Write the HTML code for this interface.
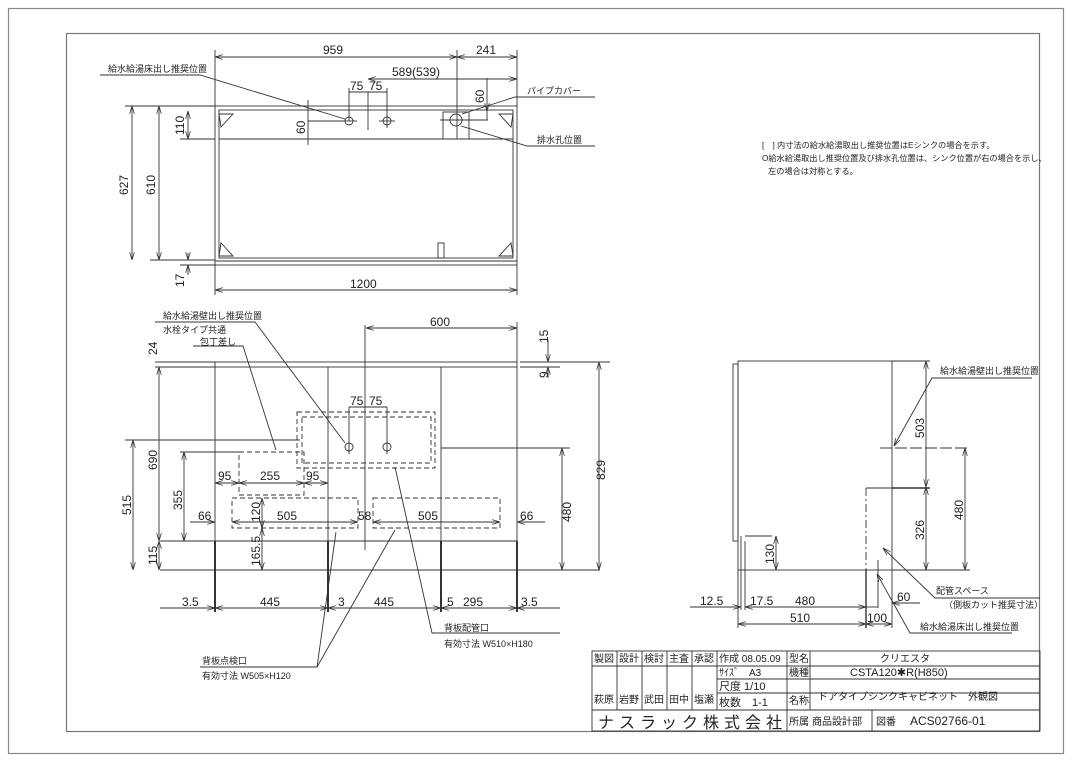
<!DOCTYPE html>
<html><head><meta charset="utf-8"><style>
html,body{margin:0;padding:0;background:#fff}
svg{display:block}
text{font-family:"Liberation Sans","Noto Sans CJK JP",sans-serif;fill:#222}
.d{font-size:12px}
.s{font-size:9px}
.n{font-size:8.2px}
.t{font-size:10px}
</style></head><body>
<svg width="1080" height="764" viewBox="0 0 1080 764" xmlns="http://www.w3.org/2000/svg">
<defs>
<marker id="a" viewBox="0 0 10 6" refX="10" refY="3" markerWidth="8" markerHeight="5" orient="auto-start-reverse" markerUnits="userSpaceOnUse"><path d="M0,0L10,3L0,6" fill="none" stroke="#333" stroke-width="1"/></marker>
</defs>
<rect x="0" y="0" width="1080" height="764" fill="#fff"/>
<rect x="8.5" y="8.5" width="1055" height="745" fill="none" stroke="#888" stroke-width="1.2"/>
<rect x="66.5" y="33.5" width="973" height="698" fill="none" stroke="#777" stroke-width="1.2"/>

<g stroke="#333" stroke-width="0.9" fill="none">
<!-- TOP VIEW -->
<rect x="215" y="106" width="302" height="159"/>
<rect x="219" y="110" width="294" height="148"/>
<line x1="219" y1="139" x2="513" y2="139"/>
<line x1="215" y1="261" x2="517" y2="261"/>
<path d="M219,114 L233,114 L221,127Z M513,114 L499,114 L511,127Z M219,256 L233,256 L221,243Z M513,256 L499,256 L511,243Z"/>
<rect x="438" y="243" width="6" height="15"/>
<circle cx="349" cy="121" r="4"/><circle cx="387" cy="121" r="4"/>
<line x1="341" y1="121" x2="357" y2="121"/><line x1="379" y1="121" x2="395" y2="121"/><line x1="387" y1="114" x2="387" y2="128"/>
<line x1="368" y1="92" x2="368" y2="130"/>
<circle cx="456" cy="120" r="6"/><rect x="443" y="112" width="26" height="27"/>
<line x1="440" y1="120" x2="488" y2="120"/>
<line x1="215" y1="50" x2="215" y2="106"/><line x1="517" y1="50" x2="517" y2="106"/><line x1="457" y1="50" x2="457" y2="139"/>
<line x1="215" y1="57" x2="457" y2="57" marker-start="url(#a)" marker-end="url(#a)"/>
<line x1="457" y1="57" x2="517" y2="57" marker-start="url(#a)" marker-end="url(#a)"/>
<line x1="368" y1="79" x2="517" y2="79" marker-start="url(#a)" marker-end="url(#a)"/>
<line x1="349" y1="88" x2="349" y2="121"/><line x1="387" y1="88" x2="387" y2="114"/>
<line x1="349" y1="92" x2="387" y2="92"/>
<line x1="487" y1="78" x2="487" y2="120"/><line x1="487" y1="108" x2="487" y2="111" marker-end="url(#a)"/>
<line x1="308" y1="100" x2="308" y2="145"/>
<line x1="308" y1="121" x2="345" y2="121"/>
<line x1="125" y1="106" x2="215" y2="106"/><line x1="150" y1="260" x2="215" y2="260"/><line x1="180" y1="265" x2="215" y2="265"/><line x1="180" y1="139" x2="215" y2="139"/>
<line x1="132" y1="106" x2="132" y2="260" marker-start="url(#a)" marker-end="url(#a)"/>
<line x1="159" y1="106" x2="159" y2="260" marker-start="url(#a)" marker-end="url(#a)"/>
<line x1="188" y1="111" x2="188" y2="139" marker-start="url(#a)" marker-end="url(#a)"/>
<line x1="188" y1="253" x2="188" y2="260" marker-end="url(#a)"/><line x1="188" y1="275" x2="188" y2="265" marker-end="url(#a)"/>
<line x1="215" y1="265" x2="215" y2="295"/><line x1="517" y1="265" x2="517" y2="295"/>
<line x1="215" y1="290" x2="517" y2="290" marker-start="url(#a)" marker-end="url(#a)"/>
<path d="M100,75 L200,75 L345,119"/>
<path d="M595,97 L515,97 L462,114"/>
<path d="M595,146 L527,146 L461,126"/>

<!-- FRONT VIEW -->
<rect x="215" y="362" width="302" height="5"/>
<line x1="215" y1="367" x2="215" y2="570"/><line x1="517" y1="367" x2="517" y2="570"/>
<line x1="328" y1="367" x2="328" y2="541"/><line x1="441" y1="367" x2="441" y2="541"/>
<line x1="215" y1="541" x2="517" y2="541"/>
<line x1="160" y1="570" x2="600" y2="570"/>
<g stroke-width="2"><line x1="215" y1="541" x2="215" y2="570"/><line x1="328" y1="541" x2="328" y2="570"/><line x1="441" y1="541" x2="441" y2="570"/><line x1="517" y1="541" x2="517" y2="570"/></g>
<g stroke-dasharray="5,3">
<rect x="297" y="412" width="138" height="56"/><rect x="302" y="417" width="129" height="46"/>
<rect x="239" y="452" width="65" height="43"/>
<rect x="232" y="498" width="126" height="30"/><rect x="373" y="498" width="127" height="30"/>
</g>
<circle cx="349" cy="447" r="4"/><circle cx="387" cy="447" r="4"/>
<line x1="349" y1="440" x2="349" y2="454"/><line x1="387" y1="440" x2="387" y2="454"/>
<line x1="365" y1="325" x2="365" y2="550"/>
<line x1="349" y1="407" x2="349" y2="440"/><line x1="387" y1="407" x2="387" y2="440"/>
<line x1="349" y1="407" x2="387" y2="407"/>
<line x1="517" y1="322" x2="517" y2="362"/>
<line x1="366" y1="328" x2="517" y2="328" marker-start="url(#a)" marker-end="url(#a)"/>
<line x1="520" y1="362" x2="610" y2="362"/><line x1="520" y1="367" x2="560" y2="367"/>
<line x1="548" y1="340" x2="548" y2="362" marker-end="url(#a)"/><line x1="548" y1="378" x2="548" y2="367" marker-end="url(#a)"/>
<line x1="599" y1="362" x2="599" y2="570" marker-start="url(#a)" marker-end="url(#a)"/>
<line x1="441" y1="448" x2="570" y2="448"/>
<line x1="562" y1="448" x2="562" y2="570" marker-start="url(#a)" marker-end="url(#a)"/>
<line x1="155" y1="362" x2="215" y2="362"/><line x1="155" y1="367" x2="215" y2="367"/>
<line x1="159" y1="367" x2="159" y2="541" marker-start="url(#a)" marker-end="url(#a)"/>
<line x1="159" y1="541" x2="159" y2="570" marker-start="url(#a)" marker-end="url(#a)"/>
<line x1="125" y1="440" x2="300" y2="440"/>
<line x1="133" y1="440" x2="133" y2="570" marker-start="url(#a)" marker-end="url(#a)"/>
<line x1="180" y1="452" x2="239" y2="452"/>
<line x1="184" y1="452" x2="184" y2="541" marker-start="url(#a)" marker-end="url(#a)"/>
<line x1="160" y1="541" x2="215" y2="541"/>
<line x1="215" y1="483" x2="239" y2="483" marker-start="url(#a)" marker-end="url(#a)"/>
<line x1="239" y1="483" x2="304" y2="483" marker-start="url(#a)" marker-end="url(#a)"/>
<line x1="304" y1="483" x2="328" y2="483" marker-start="url(#a)" marker-end="url(#a)"/>
<line x1="190" y1="522" x2="215" y2="522" marker-end="url(#a)"/>
<line x1="232" y1="522" x2="358" y2="522" marker-start="url(#a)" marker-end="url(#a)"/>
<line x1="373" y1="522" x2="500" y2="522" marker-start="url(#a)" marker-end="url(#a)"/>
<line x1="545" y1="522" x2="517" y2="522" marker-end="url(#a)"/>
<line x1="262" y1="498" x2="262" y2="528" marker-start="url(#a)" marker-end="url(#a)"/>
<line x1="262" y1="528" x2="262" y2="570" marker-start="url(#a)" marker-end="url(#a)"/>
<line x1="160" y1="608" x2="215" y2="608" marker-end="url(#a)"/>
<line x1="215" y1="608" x2="328" y2="608" marker-start="url(#a)" marker-end="url(#a)"/>
<line x1="328" y1="608" x2="441" y2="608" marker-start="url(#a)" marker-end="url(#a)"/>
<line x1="441" y1="608" x2="517" y2="608" marker-start="url(#a)" marker-end="url(#a)"/>
<line x1="560" y1="608" x2="517" y2="608" marker-end="url(#a)"/>
<g stroke-width="2"><line x1="215" y1="570" x2="215" y2="612"/><line x1="328" y1="570" x2="328" y2="612"/><line x1="441" y1="570" x2="441" y2="612"/><line x1="517" y1="570" x2="517" y2="612"/></g>
<path d="M155,322 L255,322 L345,443"/>
<path d="M193,346 L243,346 L276,450"/>
<path d="M560,633 L432,633 L395,467"/>
<path d="M200,667 L317,667 L336,532"/>
<path d="M317,667 L395,530"/>

<!-- SIDE VIEW -->
<rect x="738" y="361" width="154" height="209"/>
<rect x="733" y="364" width="5" height="177"/>
<line x1="741" y1="536" x2="741" y2="570"/><line x1="745" y1="541" x2="745" y2="570"/>
<line x1="745" y1="536" x2="772" y2="536"/>
<line x1="866" y1="488" x2="892" y2="488"/><line x1="892" y1="488" x2="930" y2="488" stroke-width="1.4"/>
<line x1="866" y1="488" x2="866" y2="570" stroke-dasharray="8,3,2,3"/>
<line x1="880" y1="448" x2="970" y2="448" stroke-dasharray="12,3"/>
<line x1="892" y1="361" x2="930" y2="361"/>
<line x1="892" y1="570" x2="970" y2="570"/>
<line x1="926" y1="361" x2="926" y2="487" marker-start="url(#a)" marker-end="url(#a)"/>
<line x1="926" y1="487" x2="926" y2="570" marker-start="url(#a)" marker-end="url(#a)"/>
<line x1="965" y1="448" x2="965" y2="570" marker-start="url(#a)" marker-end="url(#a)"/>
<line x1="776" y1="536" x2="776" y2="570" marker-start="url(#a)" marker-end="url(#a)"/>
<line x1="738" y1="570" x2="738" y2="628"/><line x1="741" y1="570" x2="741" y2="610"/><line x1="745" y1="570" x2="745" y2="610"/>
<line x1="866" y1="570" x2="866" y2="628" stroke-width="1.4"/><line x1="892" y1="570" x2="892" y2="628"/><line x1="878" y1="560" x2="878" y2="608"/>
<line x1="690" y1="607" x2="741" y2="607" marker-end="url(#a)"/>
<line x1="745" y1="607" x2="866" y2="607" marker-start="url(#a)" marker-end="url(#a)"/>
<line x1="866" y1="607" x2="878" y2="607"/>
<line x1="920" y1="603" x2="892" y2="603" marker-end="url(#a)"/>
<line x1="738" y1="624" x2="866" y2="624" marker-start="url(#a)" marker-end="url(#a)"/>
<line x1="866" y1="624" x2="892" y2="624" marker-start="url(#a)" marker-end="url(#a)"/>
<path d="M1032,378 L932,378 L894,446" marker-end="url(#a)"/>
<path d="M1040,598 L935,598 L883,548" marker-end="url(#a)"/>
<path d="M1012,633 L910,633 L877,574" marker-end="url(#a)"/>

<!-- TITLE BLOCK -->
<rect x="592" y="651" width="448" height="80"/>
<line x1="592" y1="666" x2="787" y2="666"/>
<line x1="717" y1="679" x2="1040" y2="679"/>
<line x1="787" y1="666" x2="1040" y2="666"/>
<line x1="717" y1="693" x2="787" y2="693"/>
<line x1="787" y1="693" x2="1040" y2="693"/>
<line x1="592" y1="710" x2="1040" y2="710"/>
<line x1="617" y1="651" x2="617" y2="710"/><line x1="642" y1="651" x2="642" y2="710"/><line x1="667" y1="651" x2="667" y2="710"/><line x1="692" y1="651" x2="692" y2="710"/><line x1="717" y1="651" x2="717" y2="710"/>
<line x1="787" y1="651" x2="787" y2="731"/><line x1="810" y1="651" x2="810" y2="710"/>
<line x1="872" y1="710" x2="872" y2="731"/>
</g>

<g class="d">
<text x="323" y="54">959</text><text x="476" y="54">241</text>
<text x="392" y="76">589(539)</text>
<text x="350" y="90">75</text><text x="369" y="90">75</text>
<text x="350" y="288">1200</text>
<text transform="translate(128,195) rotate(-90)">627</text>
<text transform="translate(155,195) rotate(-90)">610</text>
<text transform="translate(184,135) rotate(-90)">110</text>
<text transform="translate(184,287) rotate(-90)">17</text>
<text transform="translate(305,134) rotate(-90)">60</text>
<text transform="translate(484,103) rotate(-90)">60</text>
</g>
<g class="s">
<text x="108" y="72">給水給湯床出し推奨位置</text>
<text x="527" y="94">パイプカバー</text>
<text x="537" y="143">排水孔位置</text>
<text x="163" y="319">給水給湯壁出し推奨位置</text>
<text x="163" y="333">水栓タイプ共通</text>
<text x="200" y="345">包丁差し</text>
<text x="444" y="631">背板配管口</text>
<text x="444" y="647">有効寸法 W510×H180</text>
<text x="202" y="664">背板点検口</text>
<text x="202" y="679">有効寸法 W505×H120</text>
<text x="940" y="374">給水給湯壁出し推奨位置</text>
<text x="936" y="594">配管スペース</text>
<text x="944" y="608">（側板カット推奨寸法）</text>
<text x="920" y="630">給水給湯床出し推奨位置</text>
</g>
<g class="n">
<text x="762" y="148">[　] 内寸法の給水給湯取出し推奨位置はEシンクの場合を示す。</text>
<text x="762" y="161">O給水給湯取出し推奨位置及び排水孔位置は、シンク位置が右の場合を示し、</text>
<text x="768" y="174">左の場合は対称とする。</text>
</g>
<g class="d">
<text x="430" y="326">600</text>
<text x="350" y="405">75</text><text x="369" y="405">75</text>
<text x="218" y="480">95</text><text x="260" y="480">255</text><text x="306" y="480">95</text>
<text x="198" y="520">66</text><text x="277" y="520">505</text><text x="358" y="520">58</text><text x="418" y="520">505</text><text x="520" y="520">66</text>
<text x="182" y="606">3.5</text><text x="260" y="606">445</text><text x="338" y="606">3</text><text x="374" y="606">445</text><text x="447" y="606">5</text><text x="463" y="606">295</text><text x="521" y="606">3.5</text>
<text transform="translate(157,355) rotate(-90)">24</text>
<text transform="translate(548,343) rotate(-90)">15</text>
<text transform="translate(548,378) rotate(-90)">9</text>
<text transform="translate(157,470) rotate(-90)">690</text>
<text transform="translate(131,515) rotate(-90)">515</text>
<text transform="translate(182,510) rotate(-90)">355</text>
<text transform="translate(157,565) rotate(-90)">115</text>
<text transform="translate(260,522) rotate(-90)">120</text>
<text transform="translate(260,566) rotate(-90)">165.5</text>
<text transform="translate(571,522) rotate(-90)">480</text>
<text transform="translate(605,480) rotate(-90)">829</text>
<text transform="translate(924,438) rotate(-90)">503</text>
<text transform="translate(924,540) rotate(-90)">326</text>
<text transform="translate(963,520) rotate(-90)">480</text>
<text transform="translate(774,564) rotate(-90)">130</text>
<text x="700" y="605">12.5</text><text x="750" y="605">17.5</text><text x="795" y="605">480</text>
<text x="897" y="601">60</text>
<text x="790" y="622">510</text><text x="867" y="622">100</text>
</g>
<g class="t">
<text x="594" y="662">製図</text><text x="619" y="662">設計</text><text x="644" y="662">検討</text><text x="669" y="662">主査</text><text x="694" y="662">承認</text>
<text x="719" y="662">作成 08.05.09</text>
<text x="789" y="662">型名</text><text x="880" y="662">クリエスタ</text>
<text x="719" y="676">ｻｲｽﾞ　A3</text>
<text x="789" y="676">機種</text><text x="850" y="676" font-size="11">CSTA120✱R(H850)</text>
<text x="719" y="690" font-size="11">尺度 1/10</text>
<text x="719" y="706" font-size="11">枚数　1-1</text>
<text x="789" y="704">名称</text><text x="818" y="700">ドアタイプシンクキャビネット　外観図</text>
<text x="594" y="703">萩原</text><text x="619" y="703">岩野</text><text x="644" y="703">武田</text><text x="669" y="703">田中</text><text x="694" y="703">塩瀬</text>
<text x="789" y="725">所属</text><text x="812" y="725">商品設計部</text><text x="876" y="725">図番</text>
<text x="910" y="725" font-size="12">ACS02766-01</text>
<text x="598" y="728" font-size="16" letter-spacing="5">ナスラック株式会社</text>
</g>
</svg>
</body></html>
